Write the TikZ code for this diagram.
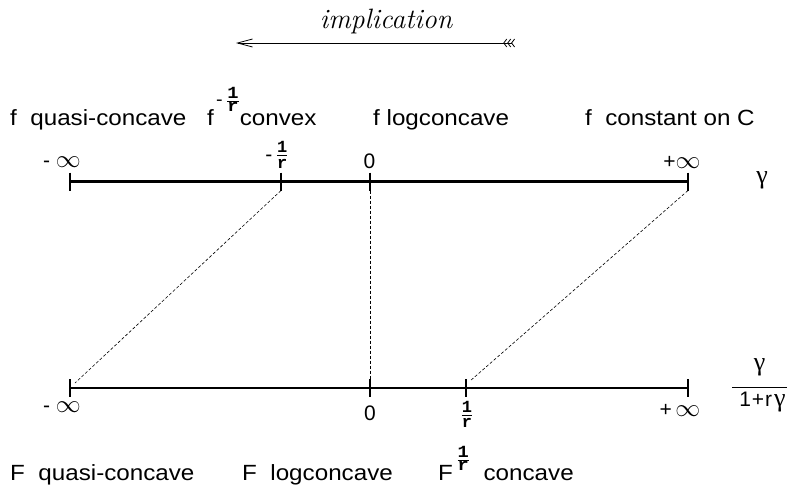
\documentclass[tikz,border=0pt]{standalone}
\usepackage{amsmath}
\usepackage{graphicx}
\usepackage{fontspec}
\setmainfont{Liberation Sans}
\newfontfamily\fracfont{Liberation Mono}
\newfontfamily\greekfont{Liberation Serif}
\newfontfamily\serifit{Latin Modern Roman}
\usetikzlibrary{arrows.meta}
\newcommand{\ticksize}{\fontsize{21}{24}\selectfont}
\newcommand{\rdigit}[1]{\mbox{\fontsize{17}{17}\fracfont\bfseries #1}}
\newcommand{\invr}{$\genfrac{}{}{1pt}{1}{\rdigit{1}}{\rdigit{r}}$}
\newcommand{\infsym}{{\fontsize{25}{25}\selectfont$\infty$}}
\newcommand{\gam}{\mbox{\fontsize{26}{26}\greekfont γ}}
\newcommand{\wide}[1]{\scalebox{1.1}[1]{#1}}

\begin{document}
\begin{tikzpicture}[x=1pt, y=-1pt,
  axisline/.style={line width=2.2pt},
  tickmark/.style={line width=1.1pt},
  link/.style={line width=0.6pt, dash pattern=on 3pt off 2pt},
  lab/.style={inner sep=0pt, anchor=base west, font=\fontsize{22}{26}\selectfont},
  ticklab/.style={inner sep=0pt, font=\fontsize{21}{24}\selectfont},
  implarrow/.style={line width=0.8pt,
    {Straight Barb[length=15pt,width=8pt]}-{Straight Barb[reversed,length=3pt,width=8pt]Straight Barb[reversed,length=3pt,width=8pt]Straight Barb[reversed,length=3pt,width=8pt]}}
]
\useasboundingbox (0,0) rectangle (794,490);

% implication arrow
\node[font=\fontsize{28}{32}\serifit\itshape, anchor=base, inner sep=0pt] (impl) at (386,28) {implication};
\coordinate (arrowL) at (236,43);
\coordinate (arrowR) at (515,43);
\draw[implarrow] (arrowL) -- (arrowR);

% the two axes
\coordinate (tA) at (70,181.5);
\coordinate (tB) at (281,181.5);
\coordinate (tC) at (370,181.5);
\coordinate (tD) at (688,181.5);
\coordinate (bA) at (70,388);
\coordinate (bB) at (370,388);
\coordinate (bC) at (466,388);
\coordinate (bD) at (688,388);
\draw[axisline] (tA) -- (tD);
\draw[axisline] (bA) -- (bD);
\foreach \n in {tA,tB,tC,tD,bA,bB,bC,bD}
  \draw[tickmark] ([yshift=9pt]\n) -- ([yshift=-9pt]\n);

% correspondence
\draw[link] ([yshift=-9pt]tB) -- ([xshift=5pt,yshift=5pt]bA);
\draw[link] ([yshift=-9pt]tC) -- ([yshift=9pt]bB);
\draw[link] ([yshift=-9pt]tD) -- ([xshift=4pt,yshift=7pt]bC);

% tick labels
\node[ticklab] (tlA) at (62,162) {-\ \infsym};
\node[ticklab] (tlB) at (277,155) {-\,\invr};
\node[ticklab] (tlC) at (369.5,161.5) {0};
\node[ticklab] (tlD) at (682,162) {+\infsym};
\node[ticklab] (blA) at (62,407) {-\ \infsym};
\node[ticklab] (blB) at (370,413) {0};
\node[ticklab] (blC) at (467,414.5) {\invr};
\node[ticklab] (blD) at (680,410) {+\,\infsym};

\node[inner sep=0pt] (gamT) at (762,180) {\gam};
\node[ticklab, anchor=base] (gamB) at (759.5,392.5)
  {$\genfrac{}{}{1pt}{0}{\raisebox{8pt}{\gam}}{\mbox{\ticksize\hspace{7pt}1\hspace{1pt}+\hspace{1pt}r\hspace{2pt}\gam\hspace{1pt}}}$};

% properties of f
\node[lab] (fquasi) at (10,125) {\wide{f\ \ quasi-concave}};
\node[lab] (fconv) at (207,125) {\wide{f\hspace{2pt}\raisebox{19.5pt}{\fontsize{18}{20}\selectfont-\,\invr}convex}};
\node[lab] (flog) at (373,125) {\wide{f\ logconcave}};
\node[lab] (fconst) at (585,125) {\wide{f\ \ constant on C}};

% properties of F
\node[lab] (Fquasi) at (10,480) {\wide{F\ \ quasi-concave}};
\node[lab] (Flog) at (242,480) {\wide{F\ \ logconcave}};
\node[lab] (Fconc) at (438,480) {\wide{F\hspace{3pt}\raisebox{15.5pt}{\fontsize{18}{20}\selectfont\invr}\ \ concave}};
\end{tikzpicture}
\end{document}
